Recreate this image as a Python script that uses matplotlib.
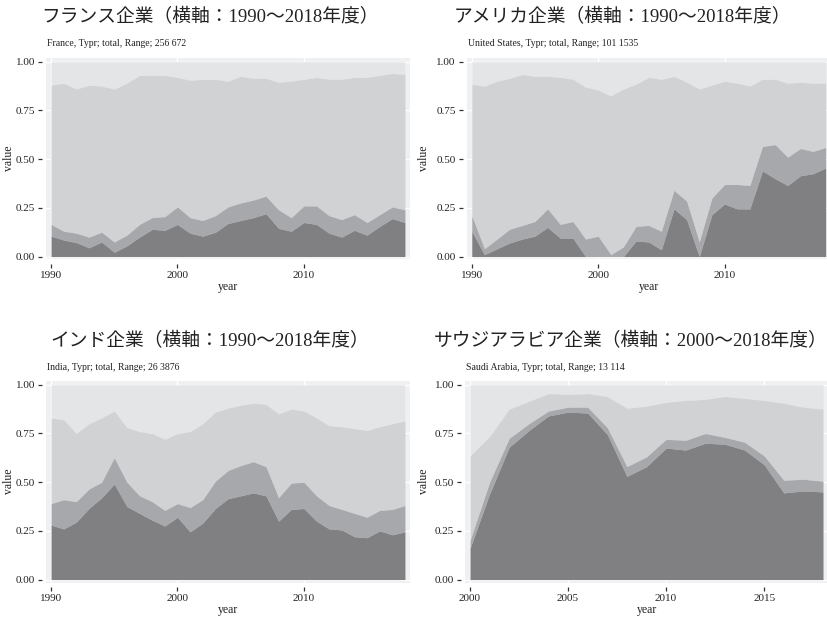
import matplotlib
matplotlib.use("Agg")
import matplotlib.pyplot as plt
import numpy as np

# ---- data: cumulative shares (top of each stacked band) ----
years_long = list(range(1990, 2019))
years_sa = list(range(2000, 2019))

france_dark = [0.105, 0.085, 0.072, 0.045, 0.075, 0.022, 0.055, 0.100, 0.140, 0.135,
               0.165, 0.120, 0.105, 0.125, 0.170, 0.185, 0.200, 0.220, 0.145, 0.130,
               0.175, 0.165, 0.120, 0.100, 0.135, 0.110, 0.155, 0.195, 0.175]
france_mid = [0.165, 0.130, 0.120, 0.100, 0.125, 0.075, 0.110, 0.165, 0.200, 0.205,
              0.255, 0.200, 0.185, 0.210, 0.255, 0.275, 0.290, 0.310, 0.240, 0.200,
              0.260, 0.260, 0.210, 0.190, 0.215, 0.175, 0.215, 0.255, 0.240]
france_light = [0.880, 0.890, 0.860, 0.880, 0.875, 0.860, 0.890, 0.930, 0.930, 0.930,
                0.920, 0.905, 0.910, 0.910, 0.900, 0.925, 0.915, 0.915, 0.895, 0.900,
                0.910, 0.920, 0.910, 0.910, 0.920, 0.920, 0.930, 0.940, 0.935]

us_dark = [0.130, 0.010, 0.040, 0.070, 0.090, 0.105, 0.150, 0.095, 0.095, 0.000,
           0.000, 0.000, 0.000, 0.080, 0.075, 0.035, 0.245, 0.190, 0.000, 0.215,
           0.270, 0.245, 0.245, 0.440, 0.400, 0.365, 0.415, 0.425, 0.455]
us_mid = [0.210, 0.040, 0.090, 0.140, 0.160, 0.180, 0.245, 0.165, 0.180, 0.090,
          0.105, 0.010, 0.050, 0.155, 0.160, 0.130, 0.340, 0.285, 0.075, 0.300,
          0.370, 0.370, 0.365, 0.565, 0.575, 0.510, 0.555, 0.540, 0.560]
us_light = [0.885, 0.875, 0.900, 0.915, 0.935, 0.925, 0.925, 0.920, 0.910, 0.870,
            0.855, 0.825, 0.860, 0.885, 0.920, 0.910, 0.925, 0.895, 0.860, 0.880,
            0.900, 0.890, 0.875, 0.910, 0.910, 0.890, 0.895, 0.890, 0.890]

india_dark = [0.280, 0.260, 0.295, 0.365, 0.420, 0.490, 0.375, 0.340, 0.305, 0.275,
              0.320, 0.245, 0.290, 0.365, 0.415, 0.430, 0.445, 0.430, 0.300, 0.360,
              0.365, 0.300, 0.260, 0.255, 0.220, 0.215, 0.250, 0.230, 0.245]
india_mid = [0.390, 0.410, 0.400, 0.465, 0.500, 0.625, 0.500, 0.430, 0.400, 0.355,
             0.390, 0.370, 0.410, 0.505, 0.560, 0.585, 0.605, 0.580, 0.420, 0.495,
             0.500, 0.430, 0.380, 0.360, 0.340, 0.320, 0.355, 0.360, 0.380]
india_light = [0.830, 0.820, 0.750, 0.800, 0.830, 0.865, 0.780, 0.760, 0.750, 0.720,
               0.750, 0.760, 0.800, 0.860, 0.880, 0.895, 0.905, 0.900, 0.850, 0.875,
               0.865, 0.830, 0.790, 0.785, 0.775, 0.765, 0.785, 0.800, 0.815]

saudi_dark = [0.160, 0.440, 0.680, 0.765, 0.840, 0.860, 0.855, 0.745, 0.530, 0.580,
              0.675, 0.665, 0.700, 0.695, 0.665, 0.590, 0.445, 0.455, 0.450]
saudi_mid = [0.200, 0.500, 0.725, 0.800, 0.865, 0.885, 0.885, 0.780, 0.580, 0.630,
             0.720, 0.715, 0.750, 0.730, 0.705, 0.635, 0.510, 0.515, 0.505]
saudi_light = [0.635, 0.735, 0.875, 0.915, 0.955, 0.950, 0.955, 0.940, 0.880, 0.890,
               0.910, 0.920, 0.925, 0.940, 0.930, 0.920, 0.905, 0.885, 0.875]

titles = ["フランス企業（横軸：1990〜2018年度）",
          "アメリカ企業（横軸：1990〜2018年度）",
          "インド企業（横軸：1990〜2018年度）",
          "サウジアラビア企業（横軸：2000〜2018年度）"]
subtitles = ["France, Typr; total, Range; 256 672",
             "United States, Typr; total, Range; 101 1535",
             "India, Typr; total, Range; 26 3876",
             "Saudi Arabia, Typr; total, Range; 13 114"]
xticks_long = [1990, 2000, 2010]
xticks_sa = [2000, 2005, 2010, 2015]
yticks = [0.0, 0.25, 0.5, 0.75, 1.0]
ytick_labels = ["0.00", "0.25", "0.50", "0.75", "1.00"]

# ---- style ----
W, H = 827, 618
SERIF = ["Liberation Serif", "DejaVu Serif"]
JP = ["Liberation Serif", "Noto Sans CJK JP", "DejaVu Sans"]
PANEL_BG = "#eff0f2"
C_TOP = "#e4e5e7"
C_LIGHT = "#d1d2d4"
C_MID = "#a7a8ab"
C_DARK = "#808083"
INK = "#222222"

fig = plt.figure(figsize=(W / 100, H / 100), dpi=100)
fig.patch.set_facecolor("white")


def px_axes(left, top, right, bottom):
    return fig.add_axes([left / W, 1 - bottom / H, (right - left) / W, (bottom - top) / H])


panels = [
    dict(box=(46, 57.5, 410, 259.5), x=years_long, d=france_dark, m=france_mid, l=france_light,
         xlim=(1989.6, 2018.4), xt=xticks_long, title_x=210, title_y=17, sub_y=43.5, ylab_x=9.5),
    dict(box=(466.7, 57.5, 830.7, 259.5), x=years_long, d=us_dark, m=us_mid, l=us_light,
         xlim=(1989.6, 2018.4), xt=xticks_long, title_x=622, title_y=17, sub_y=43.5, ylab_x=424),
    dict(box=(46, 380.5, 410, 582.5), x=years_long, d=india_dark, m=india_mid, l=india_light,
         xlim=(1989.6, 2018.4), xt=xticks_long, title_x=210, title_y=341, sub_y=367, ylab_x=9.5),
    dict(box=(465, 380.5, 828, 582.5), x=years_sa, d=saudi_dark, m=saudi_mid, l=saudi_light,
         xlim=(1999.745, 2018.255), xt=xticks_sa, title_x=631, title_y=341, sub_y=367, ylab_x=424),
]

for i, p in enumerate(panels):
    left, top, right, bottom = p["box"]
    ax = px_axes(left, top, right, bottom)
    ax.set_facecolor(PANEL_BG)
    x = np.array(p["x"], dtype=float)
    d = np.array(p["d"])
    m = np.array(p["m"])
    l = np.array(p["l"])
    ax.fill_between(x, l, 1.0, color=C_TOP, lw=0, zorder=2)
    ax.fill_between(x, m, l, color=C_LIGHT, lw=0, zorder=2)
    ax.fill_between(x, d, m, color=C_MID, lw=0, zorder=2)
    ax.fill_between(x, 0, d, color=C_DARK, lw=0, zorder=2)

    ax.set_xlim(*p["xlim"])
    ax.set_ylim(-0.015, 1.022)
    ax.set_xticks(p["xt"])
    ax.set_xticklabels([str(v) for v in p["xt"]])
    ax.set_yticks(yticks)
    ax.set_yticklabels(ytick_labels)
    ax.grid(True, color="white", lw=1.0, zorder=1)
    ax.set_axisbelow(True)
    for s in ax.spines.values():
        s.set_visible(False)
    ax.spines["left"].set_position(("outward", 3))
    ax.spines["bottom"].set_position(("outward", 3))
    ax.tick_params(axis="both", length=3, width=0.9, color="#333333",
                   labelsize=8, labelcolor=INK, pad=2)
    for lab in ax.get_xticklabels() + ax.get_yticklabels():
        lab.set_fontfamily(SERIF)
    ax.set_xlabel("year", fontsize=8.5, family=SERIF, labelpad=1, color=INK)

    fig.text(p["ylab_x"] / W, 1 - (top + bottom) / 2 / H, "value", rotation=90,
             ha="center", va="center", fontsize=8.5, family=SERIF, color=INK)
    fig.text(p["title_x"] / W, 1 - p["title_y"] / H, titles[i], ha="center", va="center",
             fontsize=13.5, family=JP, color=INK)
    fig.text((left + 1) / W, 1 - p["sub_y"] / H, subtitles[i], ha="left", va="center",
             fontsize=7, family=SERIF, color=INK)

fig.savefig("out.png", dpi=100, facecolor="white")
